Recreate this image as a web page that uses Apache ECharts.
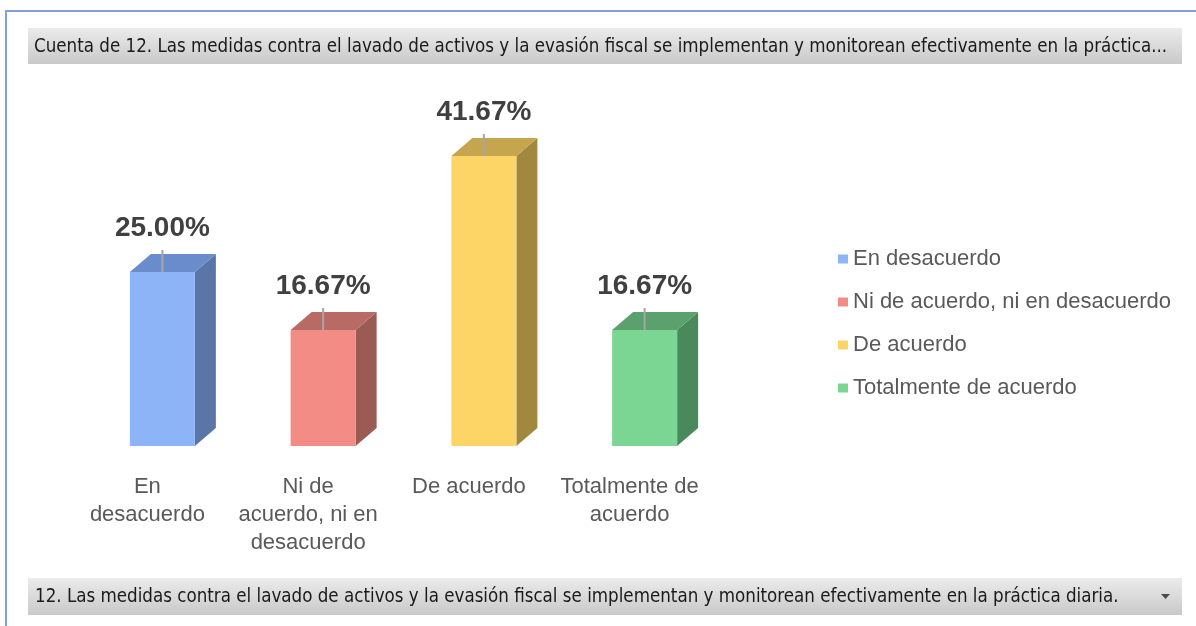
<!DOCTYPE html>
<html>
<head>
<meta charset="utf-8">
<script src="https://cdn.jsdelivr.net/npm/echarts@6/dist/echarts.min.js"></script>
<style>
  html, body { margin: 0; padding: 0; background: #fff; }
  #chart { width: 1196px; height: 626px; }
</style>
</head>
<body>
<div id="chart"></div>
<script>
const categories = ['En desacuerdo', 'Ni de acuerdo, ni en desacuerdo', 'De acuerdo', 'Totalmente de acuerdo']
const tickLabels = ['En\ndesacuerdo', 'Ni de\nacuerdo, ni en\ndesacuerdo', 'De acuerdo', 'Totalmente de\nacuerdo']
const percentages = [25.00, 16.67, 41.67, 16.67]
const titleText = 'Cuenta de 12. Las medidas contra el lavado de activos y la evasión fiscal se implementan y monitorean efectivamente en la práctica...'
const filterText = '12. Las medidas contra el lavado de activos y la evasión fiscal se implementan y monitorean efectivamente en la práctica diaria.'

// front / top / side shades of each 3d column
const palette = [
  { front: '#8db4f7', top: '#6a8ccc', side: '#5b76a6' },
  { front: '#f38c84', top: '#b86b65', side: '#9c5a55' },
  { front: '#fdd567', top: '#c5a54d', side: '#a1883f' },
  { front: '#7bd693', top: '#5aa16d', side: '#4a895b' }
]

const barFont = 'Liberation Sans, Arial, sans-serif'
const uiFont = 'DejaVu Sans Condensed, Tahoma, sans-serif'

function renderColumn (params, api) {
  const i = api.value(0)
  const base = api.coord([i, 0])
  const top = api.coord([i, api.value(1)])
  const w = 65
  const dx = 21
  const dy = 18
  const cx = base[0] + 15
  const x0 = cx - w / 2
  const x1 = x0 + w
  const c = palette[i]
  return {
    type: 'group',
    children: [
      {
        type: 'polygon',
        shape: { points: [[x1, top[1]], [x1 + dx, top[1] - dy], [x1 + dx, base[1] - dy], [x1, base[1]]] },
        style: { fill: c.side }
      },
      {
        type: 'polygon',
        shape: { points: [[x0, top[1]], [x0 + dx, top[1] - dy], [x1 + dx, top[1] - dy], [x1, top[1]]] },
        style: { fill: c.top }
      },
      {
        type: 'rect',
        shape: { x: x0, y: top[1], width: w, height: base[1] - top[1] },
        style: { fill: c.front }
      },
      {
        type: 'line',
        shape: { x1: cx, y1: top[1] - 22, x2: cx, y2: top[1] },
        style: { stroke: '#a6a6a6', lineWidth: 2 }
      },
      {
        type: 'text',
        style: {
          text: api.value(1).toFixed(2) + '%',
          x: cx,
          y: top[1] - 44,
          align: 'center',
          verticalAlign: 'middle',
          fill: '#404040',
          fontSize: 28,
          fontWeight: 'bold',
          fontFamily: barFont
        }
      }
    ]
  }
}

const bar = (x, y, h) => ({
  type: 'rect',
  shape: { x, y, width: 1154, height: h },
  style: {
    fill: new echarts.graphic.LinearGradient(0, 0, 0, 1, [
      { offset: 0, color: '#ebebeb' },
      { offset: 1, color: '#c9c9c9' }
    ])
  },
  silent: true
})

const chart = echarts.init(document.getElementById('chart'), null, { renderer: 'canvas' })
chart.setOption({
  backgroundColor: '#fff',
  animation: false,
  grid: { left: 67, right: 486, top: 98, bottom: 180 },
  xAxis: {
    type: 'category',
    data: tickLabels,
    axisLine: { show: false },
    axisTick: { show: false },
    axisLabel: {
      interval: 0,
      margin: 27,
      fontSize: 22,
      lineHeight: 28,
      color: '#595959',
      fontFamily: barFont
    }
  },
  yAxis: { type: 'value', min: 0, max: 50, show: false },
  legend: {
    data: categories,
    orient: 'vertical',
    left: 833,
    top: 243,
    icon: 'rect',
    itemWidth: 10,
    itemHeight: 9,
    itemGap: 21,
    itemTextGap: 4,
    textStyle: { fontSize: 22, lineHeight: 22, color: '#595959', fontFamily: barFont }
  },
  series: categories.map((name, i) => ({
    type: 'custom',
    name,
    itemStyle: { color: palette[i].front },
    renderItem: renderColumn,
    data: [[i, percentages[i]]]
  })),
  graphic: [
    {
      type: 'polyline',
      shape: { points: [[1196, 11], [6, 11], [6, 626]] },
      style: { stroke: '#7fa3d8', lineWidth: 2, fill: null },
      silent: true
    },
    bar(28, 28, 36),
    {
      type: 'text',
      style: { text: titleText, x: 34, y: 47, verticalAlign: 'middle', fill: '#1a1a1a', fontSize: 18.6, fontFamily: uiFont },
      silent: true
    },
    bar(28, 578, 37),
    {
      type: 'text',
      style: { text: filterText, x: 35, y: 597, verticalAlign: 'middle', fill: '#1a1a1a', fontSize: 18.6, fontFamily: uiFont },
      silent: true
    },
    {
      type: 'polygon',
      shape: { points: [[1161, 594], [1170, 594], [1165.5, 599]] },
      style: { fill: '#4a4a4a' },
      silent: true
    }
  ]
})
</script>
</body>
</html>
